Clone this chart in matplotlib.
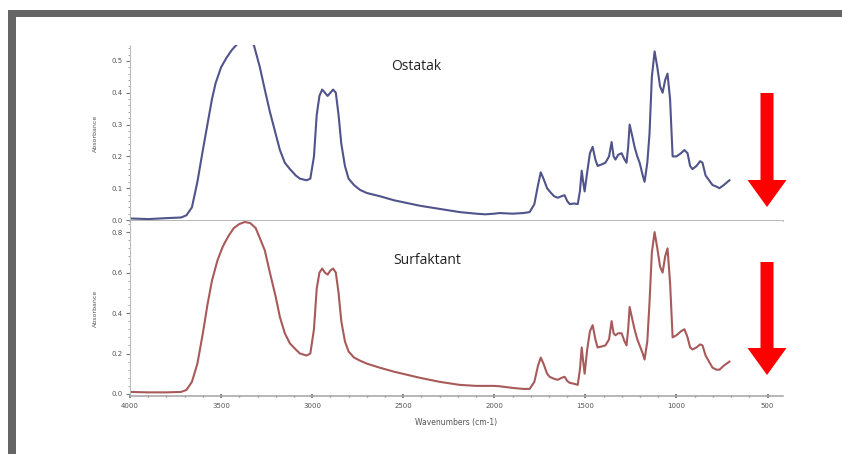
import numpy as np
import matplotlib.pyplot as plt
from matplotlib.patches import Rectangle, FancyArrow
from matplotlib.ticker import MultipleLocator

# Ostatak (top spectrum)
wn_top = [4000, 3900, 3800, 3720, 3690, 3660, 3630, 3600, 3575, 3550, 3530, 3500,
          3470, 3440, 3400, 3360, 3320, 3287, 3260, 3232, 3200, 3177, 3150, 3122,
          3090, 3067, 3030, 3010, 2990, 2975, 2960, 2945, 2930, 2915, 2900, 2885,
          2870, 2855, 2840, 2820, 2800, 2770, 2738, 2700, 2629, 2550, 2409, 2300,
          2190, 2100, 2050, 2000, 1970, 1900, 1840, 1806, 1780, 1760, 1745, 1730,
          1710, 1696, 1672, 1652, 1630, 1614, 1600, 1586, 1560, 1542, 1530, 1520,
          1512, 1504, 1490, 1475, 1460, 1445, 1433, 1410, 1390, 1370, 1356, 1345,
          1335, 1320, 1301, 1285, 1274, 1265, 1257, 1245, 1230, 1215, 1202, 1185,
          1175, 1160, 1148, 1135, 1120, 1105, 1090, 1076, 1062, 1049, 1035, 1021,
          1000, 975, 956, 939, 925, 912, 890, 870, 857, 840, 802, 780, 764, 740, 709]
abs_top = [0.005, 0.003, 0.006, 0.008, 0.015, 0.04, 0.12, 0.22, 0.30, 0.38, 0.43, 0.48,
           0.51, 0.535, 0.56, 0.57, 0.55, 0.48, 0.41, 0.34, 0.27, 0.22, 0.18, 0.16,
           0.14, 0.13, 0.125, 0.13, 0.20, 0.33, 0.39, 0.41, 0.40, 0.39, 0.40, 0.41,
           0.40, 0.33, 0.24, 0.17, 0.13, 0.11, 0.095, 0.085, 0.075, 0.062, 0.045, 0.035,
           0.025, 0.02, 0.018, 0.02, 0.022, 0.02, 0.022, 0.025, 0.05, 0.11, 0.15, 0.13,
           0.10, 0.09, 0.075, 0.07, 0.075, 0.078, 0.06, 0.05, 0.052, 0.05, 0.09, 0.155,
           0.12, 0.09, 0.15, 0.21, 0.23, 0.19, 0.17, 0.175, 0.18, 0.20, 0.245, 0.20,
           0.19, 0.205, 0.21, 0.19, 0.18, 0.23, 0.30, 0.27, 0.23, 0.20, 0.18, 0.14,
           0.12, 0.18, 0.27, 0.45, 0.53, 0.48, 0.42, 0.40, 0.44, 0.46, 0.38, 0.20,
           0.20, 0.21, 0.22, 0.21, 0.17, 0.16, 0.17, 0.185, 0.18, 0.14, 0.11, 0.105, 0.10, 0.11, 0.125]

# Surfaktant (bottom spectrum)
wn_bot = [4000, 3900, 3800, 3720, 3690, 3660, 3630, 3600, 3575, 3550, 3520, 3490,
          3460, 3430, 3400, 3370, 3340, 3310, 3287, 3260, 3232, 3200, 3177, 3150,
          3122, 3090, 3067, 3030, 3010, 2990, 2975, 2960, 2945, 2930, 2915, 2900,
          2885, 2870, 2855, 2840, 2820, 2800, 2770, 2738, 2700, 2629, 2550, 2409,
          2300, 2190, 2100, 2000, 1970, 1900, 1840, 1806, 1780, 1760, 1745, 1730,
          1710, 1696, 1672, 1652, 1630, 1614, 1600, 1586, 1560, 1542, 1530, 1520,
          1512, 1504, 1490, 1475, 1460, 1445, 1433, 1410, 1390, 1370, 1356, 1345,
          1335, 1320, 1301, 1285, 1274, 1265, 1257, 1245, 1230, 1215, 1202, 1185,
          1175, 1160, 1148, 1135, 1120, 1105, 1090, 1076, 1062, 1049, 1035, 1021,
          1000, 975, 956, 939, 925, 912, 890, 870, 857, 840, 802, 780, 764, 740, 709]
abs_bot = [0.01, 0.008, 0.008, 0.01, 0.02, 0.06, 0.15, 0.30, 0.44, 0.56, 0.66, 0.73,
           0.78, 0.82, 0.84, 0.85, 0.845, 0.82, 0.77, 0.71, 0.60, 0.48, 0.38, 0.30,
           0.25, 0.22, 0.20, 0.19, 0.20, 0.32, 0.52, 0.60, 0.62, 0.60, 0.59, 0.61,
           0.62, 0.60, 0.50, 0.36, 0.26, 0.21, 0.18, 0.165, 0.15, 0.13, 0.11, 0.08,
           0.06, 0.045, 0.04, 0.04, 0.038, 0.03, 0.025, 0.025, 0.06, 0.14, 0.18, 0.15,
           0.10, 0.085, 0.075, 0.07, 0.08, 0.085, 0.065, 0.055, 0.05, 0.045, 0.12, 0.23,
           0.16, 0.10, 0.22, 0.31, 0.34, 0.27, 0.23, 0.235, 0.24, 0.27, 0.36, 0.30,
           0.29, 0.30, 0.30, 0.26, 0.24, 0.32, 0.43, 0.38, 0.32, 0.27, 0.24, 0.20,
           0.17, 0.26, 0.45, 0.70, 0.80, 0.72, 0.63, 0.60, 0.68, 0.72, 0.55, 0.28,
           0.29, 0.31, 0.32, 0.28, 0.23, 0.22, 0.23, 0.245, 0.24, 0.19, 0.13, 0.12, 0.12, 0.14, 0.16]

labels = ['Ostatak', 'Surfaktant']
x_ticks = [4000, 3500, 3000, 2500, 2000, 1500, 1000, 500]
y_ticks_top = [0.0, 0.1, 0.2, 0.3, 0.4, 0.5]
y_ticks_bot = [0.0, 0.2, 0.4, 0.6, 0.8]

W, H = 842, 454
fig = plt.figure(figsize=(W / 100, H / 100), dpi=100)
fig.patch.set_facecolor('white')

def fx(px):
    return px / W

def fy(py):
    return 1 - py / H

ax1 = fig.add_axes([fx(130), fy(221), fx(783) - fx(130), fy(45) - fy(221)])
ax2 = fig.add_axes([fx(130), fy(396), fx(783) - fx(130), fy(221) - fy(396)])

ax1.plot(wn_top, abs_top, color='#50548a', lw=1.5)
ax2.plot(wn_bot, abs_bot, color='#a85a5a', lw=1.5)
ax1.set_ylim(-0.003, 0.55)
ax2.set_ylim(-0.01, 0.855)

for ax, yt in [(ax1, y_ticks_top), (ax2, y_ticks_bot)]:
    ax.set_xlim(4000, 415)
    ax.set_yticks(yt)
    ax.set_yticklabels(['%.1f' % v for v in yt])
    ax.spines['top'].set_visible(False)
    ax.spines['right'].set_visible(False)
    ax.spines['left'].set_color('#bbbbbb')
    ax.spines['left'].set_linestyle((0, (2, 1)))
    ax.spines['bottom'].set_color('#aaaaaa')
    ax.spines['bottom'].set_linewidth(1.2)
    ax.yaxis.set_minor_locator(MultipleLocator(0.02 if ax is ax1 else 0.04))
    ax.tick_params(axis='y', which='major', length=3, width=0.8, color='#777777',
                   labelsize=5, labelcolor='#555555', pad=2)
    ax.tick_params(axis='y', which='minor', length=1.5, color='#999999')
    ax.set_ylabel('Absorbance', fontsize=4.5, color='#555555', labelpad=10)

ax1.set_xticks([])
ax1.tick_params(axis='x', which='both', length=0)
ax2.set_xticks(x_ticks)
ax2.set_xticklabels([str(v) for v in x_ticks])
ax2.xaxis.set_minor_locator(MultipleLocator(100))
ax2.tick_params(axis='x', which='major', length=2.5, width=1.2, color='#666666',
                labelsize=5, labelcolor='#555555', pad=4, direction='inout')
ax2.tick_params(axis='x', which='minor', length=2, width=1, color='#777777', direction='inout')
ax2.set_xlabel('Wavenumbers (cm-1)', fontsize=5.5, color='#555555', labelpad=6)

fig.text(fx(391), fy(66), labels[0], fontsize=10, family='Open Sans',
         color='#222222', ha='left', va='center')
fig.text(fx(393), fy(261), labels[1], fontsize=10, family='Open Sans',
         color='#222222', ha='left', va='center')

# red arrows
for top, tip in [(93, 207), (262, 375)]:
    fig.patches.append(FancyArrow(fx(767), fy(top), 0, fy(tip) - fy(top),
                                  width=13 / W, head_width=39 / W, head_length=27 / H,
                                  length_includes_head=True, color='#ff0000', lw=0,
                                  transform=fig.transFigure, figure=fig))

# dark frame on top and left
fig.patches.append(Rectangle((fx(8), fy(17)), 1 - fx(8), fy(10) - fy(17),
                             color='#656565', lw=0, transform=fig.transFigure, figure=fig))
fig.patches.append(Rectangle((fx(8), 0), fx(16) - fx(8), fy(10),
                             color='#656565', lw=0, transform=fig.transFigure, figure=fig))

fig.savefig('out.png', dpi=100)
